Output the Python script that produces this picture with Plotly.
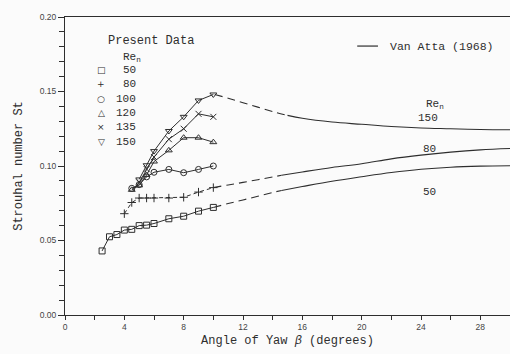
import plotly.graph_objects as go

# ---- Present data (Strouhal number vs yaw angle) ----
re50_x = [2.5, 3, 3.5, 4, 4.5, 5, 5.5, 6, 7, 8, 9, 10]
re50_y = [0.043, 0.0525, 0.054, 0.057, 0.0575, 0.060, 0.0603, 0.0614, 0.0646, 0.0663, 0.0697, 0.0722]

re80_x = [4, 4.5, 5, 5.5, 6, 7, 8, 9, 10]
re80_y = [0.068, 0.0755, 0.0785, 0.0785, 0.0785, 0.0785, 0.079, 0.0825, 0.0855]

re100_x = [4.5, 5, 5.5, 6, 7, 8, 9, 10]
re100_y = [0.085, 0.0875, 0.0927, 0.0958, 0.0977, 0.0955, 0.0977, 0.100]

re120_x = [4.5, 5, 5.5, 6, 7, 8, 9, 10]
re120_y = [0.084, 0.087, 0.094, 0.103, 0.1105, 0.119, 0.119, 0.116]

re135_x = [5, 5.5, 6, 7, 8, 9, 10]
re135_y = [0.089, 0.098, 0.106, 0.118, 0.125, 0.135, 0.133]

re150_x = [5, 5.5, 6, 7, 8, 9, 10]
re150_y = [0.091, 0.1005, 0.110, 0.1235, 0.133, 0.144, 0.148]

# ---- Van Atta (1968) curves: dashed extrapolation + solid part ----
va150_dash_x = [10.1, 11, 12, 13, 14, 15]
va150_dash_y = [0.148, 0.1455, 0.1425, 0.1395, 0.1365, 0.134]
va150_x = [15, 16, 18, 20, 22, 24, 26, 28, 30]
va150_y = [0.134, 0.132, 0.1295, 0.128, 0.1265, 0.1255, 0.125, 0.1245, 0.1243]

va80_dash_x = [10, 11, 12, 13, 14, 14.6]
va80_dash_y = [0.0855, 0.0873, 0.089, 0.0908, 0.0926, 0.0938]
va80_x = [14.6, 16, 18, 20, 22, 24, 26, 28, 30]
va80_y = [0.0938, 0.096, 0.099, 0.1015, 0.1048, 0.1073, 0.1093, 0.1108, 0.1117]

va50_dash_x = [10, 11, 12, 13, 14, 14.6]
va50_dash_y = [0.0722, 0.0748, 0.0772, 0.0797, 0.0822, 0.0836]
va50_x = [14.6, 16, 18, 20, 22, 24, 26, 28, 30]
va50_y = [0.0836, 0.0862, 0.0898, 0.0928, 0.0956, 0.0978, 0.0992, 0.0999, 0.1002]

x_ticks = [0, 4, 8, 12, 16, 20, 24, 28]
y_ticks = [0.00, 0.05, 0.10, 0.15, 0.20]

INK = "#2e2e2e"
MONO = "Liberation Mono, DejaVu Sans Mono, monospace"
SANS = "Liberation Sans, Arial, sans-serif"

fig = go.Figure()

def data_trace(x, y, symbol, dash="solid"):
    fig.add_trace(go.Scatter(
        x=x, y=y, mode="lines+markers",
        line=dict(color=INK, width=1, dash=dash),
        marker=dict(symbol=symbol, size=6, color=INK,
                    line=dict(color=INK, width=1)),
        showlegend=False, hoverinfo="skip"))

def curve(x, y, dash):
    fig.add_trace(go.Scatter(
        x=x, y=y, mode="lines", line=dict(color=INK, width=1.1, dash=dash, shape="spline"),
        showlegend=False, hoverinfo="skip"))

curve(va150_dash_x, va150_dash_y, "8px,5px")
curve(va150_x, va150_y, "solid")
curve(va80_dash_x, va80_dash_y, "8px,5px")
curve(va80_x, va80_y, "solid")
curve(va50_dash_x, va50_dash_y, "8px,5px")
curve(va50_x, va50_y, "solid")

data_trace(re50_x, re50_y, "square-open")
data_trace(re80_x, re80_y, "cross-thin-open", dash="4px,3px")
data_trace(re100_x, re100_y, "circle-open")
data_trace(re120_x, re120_y, "triangle-up-open")
data_trace(re135_x, re135_y, "x-thin-open")
data_trace(re150_x, re150_y, "triangle-down-open")

ann = []
def txt(x, y, s, size=11, anchor="center", font=MONO):
    ann.append(dict(x=x, y=y, xref="x", yref="y", text=s, showarrow=False,
                    xanchor=anchor, yanchor="middle",
                    font=dict(family=font, size=size, color=INK)))

# legend block (Present Data)
txt(5.8, 0.184, "Present Data", size=12)
txt(3.8, 0.1730, "Re<sub>n</sub>", size=11, anchor="left")
leg_syms = ["□", "+", "○", "△", "×", "▽"]
leg_vals = ["50", "80", "100", "120", "135", "150"]
leg_rows = [0.1642, 0.1550, 0.1452, 0.1356, 0.1262, 0.1161]
for s, v, yy in zip(leg_syms, leg_vals, leg_rows):
    txt(2.45, yy, s, size=9, font="DejaVu Sans")
    txt(4.9, yy, v, size=11, anchor="right")

# Van Atta key
txt(21.75, 0.1805, "Van Atta (1968)", size=11.5, anchor="left")

# curve labels
txt(24.2, 0.1415, "Re<sub>n</sub>", size=11, anchor="left")
txt(24.5, 0.1325, "150", size=11)
txt(24.6, 0.1115, "80", size=11)
txt(24.6, 0.0828, "50", size=11)

fig.update_layout(
    width=510, height=354,
    margin=dict(l=65, r=0, t=17, b=39),
    paper_bgcolor="#fbfbfb", plot_bgcolor="#fbfbfb",
    annotations=ann,
    shapes=[dict(type="line", xref="x", yref="y", x0=19.7, x1=21.1, y0=0.1805, y1=0.1805,
                 line=dict(color=INK, width=1.2))],
    xaxis=dict(range=[0, 30], tickvals=x_ticks, ticktext=[str(v) for v in x_ticks],
               ticks="outside", ticklen=4, tickwidth=1, tickcolor=INK,
               minor=dict(dtick=2, tick0=0, ticks="outside", ticklen=4, tickcolor=INK),
               showline=True, linecolor=INK, linewidth=1, mirror=True,
               showgrid=False, zeroline=False,
               tickfont=dict(family=SANS, size=8.5, color="#444"),
               title=dict(text="Angle of Yaw <i>β</i> (degrees)", standoff=4,
                          font=dict(family=MONO, size=12, color=INK))),
    yaxis=dict(range=[0, 0.2], tickvals=y_ticks, ticktext=[f"{v:.2f}" for v in y_ticks],
               ticks="outside", ticklen=6, tickwidth=1, tickcolor=INK,
               minor=dict(dtick=0.01, tick0=0, ticks="outside", ticklen=5, tickcolor=INK),
               showline=True, linecolor=INK, linewidth=1, mirror=False,
               showgrid=False, zeroline=False,
               tickfont=dict(family=SANS, size=8.5, color="#444"),
               title=dict(text="Strouhal number St", standoff=14,
                          font=dict(family=MONO, size=12, color=INK))),
)

fig.write_html("out.html")
